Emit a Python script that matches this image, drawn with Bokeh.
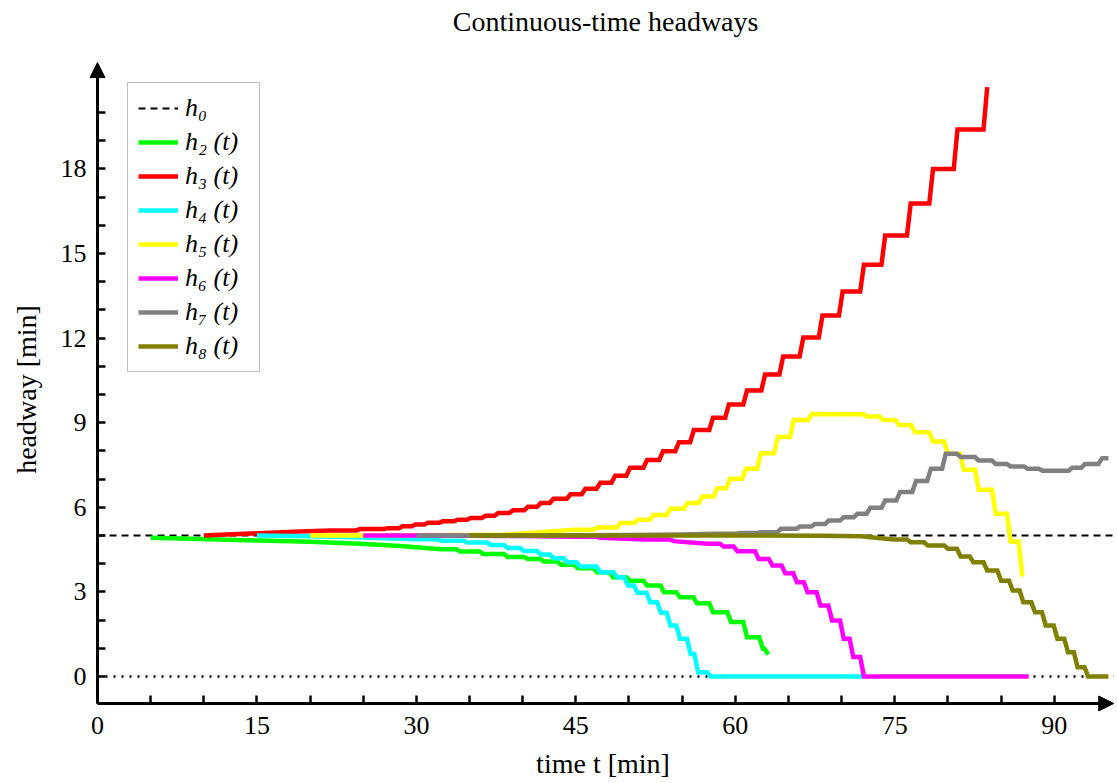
from bokeh.plotting import figure
from bokeh.models import Range1d, Arrow, NormalHead, Legend, LegendItem, FixedTicker, Label
from bokeh.embed import file_html
from bokeh.resources import INLINE

# ---------------- data ----------------
h0 = 5.0
t_min, t_max = 0.0, 95.6          # extent of the time axis (arrow tip at t_max)
h_min, h_max = -0.957, 21.77      # extent of the headway axis (arrow tip at h_max)
view_t = (-9.125, 95.955)         # visible window (whole canvas)
view_h = (-3.794, 23.972)
title_text = "Continuous-time headways"

x_major_ticks = [0, 15, 30, 45, 60, 75, 90]
x_minor_ticks = [5, 10, 20, 25, 35, 40, 50, 55, 65, 70, 80, 85]
y_major_ticks = [0, 3, 6, 9, 12, 15, 18]
y_minor_ticks = [1, 2, 4, 5, 7, 8, 10, 11, 13, 14, 16, 17, 19, 20]

red_t = [10.0, 14.4, 18.4, 21.9, 24.7, 27.3, 28.7, 29.9, 31.1, 32.5, 33.9, 35.1, 36.5, 37.7, 39.1,
         40.5, 41.7, 42.9, 44.5, 45.9, 47.3, 48.7, 50.1, 51.7, 53.2, 54.7, 56.1, 57.9, 59.4, 61.1,
         62.8, 64.5, 66.4, 68.2, 70.1, 72.1, 74.1, 76.5, 78.6, 80.9, 83.7]
red_h = [5.00, 5.07, 5.13, 5.18, 5.23, 5.26, 5.33, 5.39, 5.45, 5.51, 5.56, 5.62, 5.70, 5.80, 5.90,
         6.02, 6.15, 6.30, 6.46, 6.66, 6.87, 7.12, 7.40, 7.68, 7.99, 8.31, 8.74, 9.18, 9.65, 10.14,
         10.71, 11.35, 12.02, 12.80, 13.65, 14.60, 15.64, 16.77, 18.00, 19.40, 20.90]

green_t = [5.0, 9.7, 15.3, 20.0, 24.7, 28.5, 32.3, 34.1, 36.3, 38.6, 40.5, 42.0, 43.6, 45.2, 47.0,
           48.5, 50.1, 51.7, 53.3, 54.8, 56.4, 57.9, 59.6, 61.1, 62.6, 63.1]
green_h = [4.92, 4.88, 4.82, 4.78, 4.71, 4.63, 4.51, 4.43, 4.34, 4.24, 4.17, 4.08, 3.96, 3.84, 3.70,
           3.52, 3.40, 3.23, 2.99, 2.81, 2.60, 2.28, 1.93, 1.39, 0.98, 0.78]

cyan_t = [15.0, 20.0, 25.0, 30.0, 32.3, 34.8, 37.0, 38.6, 40.1, 41.7, 42.9, 44.2, 45.4, 47.3, 48.9,
          49.9, 50.8, 52.0, 53.0, 53.9, 54.8, 55.8, 56.5, 57.7, 72.0]
cyan_h = [5.00, 4.97, 4.93, 4.87, 4.81, 4.75, 4.66, 4.56, 4.45, 4.33, 4.19, 4.05, 3.90, 3.70, 3.52,
          3.23, 2.97, 2.63, 2.26, 1.81, 1.34, 0.80, 0.15, 0.00, 0.00]

yellow_t = [20.0, 25.0, 30.0, 35.0, 38.5, 41.7, 44.8, 47.0, 49.2, 50.8, 52.3, 53.9, 55.5, 56.9, 58.3,
            59.5, 61.0, 62.4, 64.0, 65.5, 67.2, 70.2, 72.4, 73.9, 75.4, 76.9, 78.6, 80.0, 81.5, 82.9,
            84.5, 85.9, 87.0]
yellow_h = [5.00, 5.00, 5.01, 5.02, 5.04, 5.12, 5.20, 5.28, 5.44, 5.56, 5.73, 5.95, 6.15, 6.38, 6.68,
            7.01, 7.37, 7.92, 8.49, 9.10, 9.31, 9.30, 9.22, 9.10, 8.92, 8.66, 8.33, 7.90, 7.33, 6.62,
            5.77, 4.79, 3.55]

magenta_t = [25.0, 30.0, 35.0, 40.0, 45.0, 47.3, 51.7, 54.2, 57.4, 58.9, 60.2, 62.2, 63.5, 64.7, 65.8,
             66.8, 68.0, 69.1, 70.2, 71.1, 72.1, 87.6]
magenta_h = [5.00, 5.00, 4.99, 4.98, 4.96, 4.92, 4.86, 4.80, 4.71, 4.61, 4.44, 4.17, 3.94, 3.66, 3.34,
             2.99, 2.52, 1.99, 1.34, 0.69, 0.00, 0.00]

gray_t = [30.0, 40.0, 50.0, 55.0, 58.0, 60.5, 62.4, 64.3, 66.1, 67.5, 68.8, 70.2, 71.5, 72.7, 74.1,
          75.5, 77.0, 78.4, 79.8, 81.2, 82.9, 84.5, 85.9, 87.5, 88.9, 91.7, 92.9, 94.5, 95.1]
gray_h = [5.00, 5.00, 5.02, 5.04, 5.06, 5.09, 5.12, 5.24, 5.32, 5.41, 5.53, 5.65, 5.77, 5.98, 6.24,
          6.54, 6.93, 7.37, 7.90, 7.78, 7.66, 7.54, 7.45, 7.37, 7.30, 7.40, 7.54, 7.74, 7.74]

olive_t = [35.0, 45.0, 55.0, 62.4, 68.0, 71.8, 74.9, 76.5, 78.1, 80.0, 81.2, 82.4, 83.7, 85.0, 86.1,
           87.1, 88.2, 89.2, 90.3, 91.3, 92.2, 93.2, 95.1]
olive_h = [5.00, 5.00, 5.00, 5.00, 4.99, 4.97, 4.86, 4.76, 4.65, 4.53, 4.26, 4.05, 3.76, 3.40, 3.05,
           2.63, 2.28, 1.81, 1.34, 0.86, 0.33, 0.00, 0.00]

series = [
    ("h\u2082 (t)", green_t, green_h, "#00ff00"),
    ("h\u2083 (t)", red_t, red_h, "#ff0000"),
    ("h\u2084 (t)", cyan_t, cyan_h, "#00ffff"),
    ("h\u2085 (t)", yellow_t, yellow_h, "#ffff00"),
    ("h\u2086 (t)", magenta_t, magenta_h, "#ff00ff"),
    ("h\u2087 (t)", gray_t, gray_h, "#808080"),
    ("h\u2088 (t)", olive_t, olive_h, "#808000"),
]

RISER = 0.35      # width (min) of the slanted step risers
SMOOTH_GAP = 2.9  # sparse readings (smooth part of a curve) are joined directly


def staircase(ts, hs, w=RISER):
    xs, ys = [ts[0]], [hs[0]]
    for i in range(1, len(ts)):
        if ts[i] - ts[i - 1] <= SMOOTH_GAP:
            xs.append(ts[i] - w)
            ys.append(hs[i - 1])
        xs.append(ts[i])
        ys.append(hs[i])
    return xs, ys


SERIF = "Liberation Serif"

p = figure(frame_width=1117, frame_height=783,
           x_range=Range1d(*view_t), y_range=Range1d(*view_h),
           output_backend="svg", toolbar_location=None,
           min_border_left=0, min_border_top=0, min_border_right=0, min_border_bottom=0)
p.outline_line_color = None
p.grid.visible = False
p.background_fill_color = "white"
p.border_fill_color = "white"

# title, placed above the axes area
p.add_layout(Label(x=(t_min + t_max) / 2, y=23.23, text=title_text,
                   text_align="center", text_baseline="alphabetic",
                   text_font=SERIF, text_font_size="28px", text_color="black"))

# axes, crossing at (t_min, h_min)
p.xaxis.fixed_location = h_min
p.yaxis.fixed_location = t_min
p.xaxis.ticker = FixedTicker(ticks=x_major_ticks, minor_ticks=x_minor_ticks)
p.yaxis.ticker = FixedTicker(ticks=y_major_ticks, minor_ticks=y_minor_ticks)
p.xaxis.bounds = (t_min, t_max - 0.5)
p.yaxis.bounds = (h_min, h_max - 0.45)
for ax in (p.xaxis[0], p.yaxis[0]):
    ax.axis_line_width = 3
    ax.axis_line_color = "black"
    ax.major_tick_in = 8
    ax.major_tick_out = 0
    ax.minor_tick_in = 8
    ax.minor_tick_out = 0
    ax.major_tick_line_width = 2.5
    ax.minor_tick_line_width = 2.5
    ax.major_tick_line_color = "black"
    ax.minor_tick_line_color = "black"
    ax.major_label_text_font = SERIF
    ax.major_label_text_font_size = "26px"
    ax.major_label_text_color = "black"
    ax.axis_label_text_font = SERIF
    ax.axis_label_text_font_style = "normal"
    ax.axis_label_text_font_size = "28px"
    ax.axis_label_text_color = "black"
p.xaxis.axis_label = "time t [min]"
p.yaxis.axis_label = "headway [min]"
p.xaxis.major_label_standoff = 14
p.yaxis.major_label_standoff = 11
p.xaxis.axis_label_standoff = 10
p.yaxis.axis_label_standoff = 16

# arrow heads at the axis ends
p.add_layout(Arrow(end=NormalHead(size=15, fill_color="black", line_color="black", line_width=1),
                   x_start=t_min, y_start=20.5, x_end=t_min, y_end=h_max,
                   line_width=3, line_color="black"))
p.add_layout(Arrow(end=NormalHead(size=15, fill_color="black", line_color="black", line_width=1),
                   x_start=94.5, y_start=h_min, x_end=t_max, y_end=h_min,
                   line_width=3, line_color="black"))

# reference lines
p.line([t_min, t_max], [0, 0], line_color="black", line_width=2.5, line_dash="2 6")
r0 = p.line([t_min, t_max], [h0, h0], line_color="black", line_width=2, line_dash="7 5")

items = [LegendItem(label="h\u2080", renderers=[r0])]
for label, ts, hs, color in series:
    xs, ys = staircase(ts, hs)
    r = p.line(xs, ys, line_color=color, line_width=4.5, line_join="miter")
    items.append(LegendItem(label=label, renderers=[r]))

legend = Legend(items=items, location=(127, 411), margin=0, padding=10, spacing=4,
                glyph_width=40, glyph_height=30, label_height=30, label_width=64, label_standoff=7,
                border_line_color="#808080", border_line_width=1,
                background_fill_color="white", background_fill_alpha=1.0,
                label_text_font=SERIF, label_text_font_style="italic",
                label_text_font_size="26px", label_text_color="black")
p.add_layout(legend)

open("out.html", "w").write(file_html(p, INLINE))
